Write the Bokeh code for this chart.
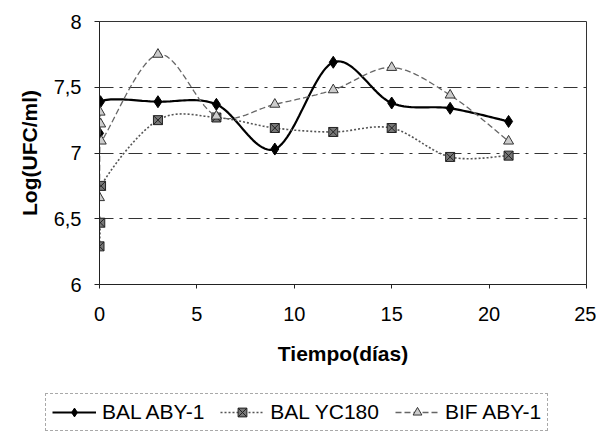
import numpy as np
from bokeh.plotting import figure
from bokeh.layouts import column, row
from bokeh.models import Legend, LegendItem, FixedTicker
from bokeh.embed import file_html
from bokeh.resources import INLINE

# ---- data ----
series_names = ["BAL ABY-1", "BAL YC180", "BIF ABY-1"]

t_aby = [0, 0.05, 3, 6, 9, 12, 15, 18, 21]
v_aby = [7.15, 7.39, 7.39, 7.37, 7.03, 7.69, 7.38, 7.34, 7.24]

t_yc = [0, 0.04, 0.08, 3, 6, 9, 12, 15, 18, 21]
v_yc = [6.29, 6.47, 6.75, 7.25, 7.27, 7.19, 7.16, 7.19, 6.97, 6.98]

t_bif = [0, 0.03, 0.06, 0.09, 3, 6, 9, 12, 15, 18, 21]
v_bif = [6.66, 7.31, 7.22, 7.09, 7.75, 7.28, 7.37, 7.48, 7.65, 7.44, 7.09]

x_ticks = [0, 5, 10, 15, 20, 25]
y_ticks = [6, 6.5, 7, 7.5, 8]
y_tick_labels = ["6", "6,5", "7", "7,5", "8"]
x_title = "Tiempo(días)"
y_title = "Log(UFC/ml)"


def smooth(xs, ys, n=24):
    """Excel-like smoothed line through the data points (Bezier/Catmull-Rom)."""
    P = np.column_stack([xs, ys]).astype(float)
    P = np.vstack([P[0], P, P[-1]])
    out = []
    for i in range(1, len(P) - 2):
        p0, p1, p2, p3 = P[i - 1], P[i], P[i + 1], P[i + 2]
        c1 = p1 + (p2 - p0) / 6.0
        c2 = p2 - (p3 - p1) / 6.0
        for s in np.linspace(0, 1, n, endpoint=False):
            b = ((1 - s) ** 3) * p1 + 3 * ((1 - s) ** 2) * s * c1 + 3 * (1 - s) * s * s * c2 + s ** 3 * p2
            out.append(b)
    out.append(P[-2])
    out = np.array(out)
    return out[:, 0], out[:, 1]


font = "Liberation Sans"

p = figure(width=596, height=372, x_range=(0, 25), y_range=(6, 8),
           output_backend="svg", toolbar_location=None,
           min_border_left=99, min_border_right=10, min_border_top=21, min_border_bottom=88)

p.background_fill_color = "white"
p.border_fill_color = "white"
p.outline_line_color = "#333333"
p.outline_line_width = 1

p.xgrid.visible = False
p.ygrid.ticker = FixedTicker(ticks=[6.5, 7, 7.5])
p.ygrid.grid_line_color = "#333333"
p.ygrid.grid_line_dash = "14 6 3 6"
p.ygrid.grid_line_width = 1

for ax in (p.xaxis, p.yaxis):
    ax.axis_line_color = "#222222"
    ax.major_tick_line_color = "#222222"
    ax.minor_tick_line_color = None
    ax.major_tick_in = 0
    ax.major_label_text_font = font
    ax.major_label_text_font_size = "20px"
    ax.major_label_text_color = "black"
    ax.axis_label_text_font = font
    ax.axis_label_text_font_size = "21px"
    ax.axis_label_text_font_style = "bold"
    ax.axis_label_text_color = "black"

p.xaxis.ticker = FixedTicker(ticks=x_ticks)
p.yaxis.ticker = FixedTicker(ticks=y_ticks)
p.yaxis.major_label_overrides = {t: l for t, l in zip(y_ticks, y_tick_labels)}
p.xaxis.major_tick_out = 4
p.yaxis.major_tick_out = 5
p.xaxis.major_label_standoff = 18
p.yaxis.major_label_standoff = 13
p.xaxis.axis_label = x_title
p.yaxis.axis_label = y_title
p.xaxis.axis_label_standoff = 18
p.yaxis.axis_label_standoff = 10

styles = [
    dict(line=dict(line_color="black", line_width=2.2),
         mark=dict(marker="diamond", size=12, fill_color="black", line_color="black")),
    dict(line=dict(line_color="#555555", line_width=1.6, line_dash="2 2"),
         mark=dict(marker="square_x", size=9, fill_color="#777777", line_color="#222222")),
    dict(line=dict(line_color="#666666", line_width=1.3, line_dash="6 3"),
         mark=dict(marker="triangle", size=10, fill_color="#cccccc", line_color="#333333")),
]
data = [(t_aby, v_aby), (t_yc, v_yc), (t_bif, v_bif)]

for (tx, vy), st in zip(data, styles):
    sx, sy = smooth(tx, vy)
    p.line(sx, sy, **st["line"])
    p.scatter(tx, vy, **st["mark"])

# ---- legend strip below the chart (same series, out of this strip's view) ----
q = figure(width=596, height=60, x_range=(100, 101), y_range=(100, 101),
           x_axis_type=None, y_axis_type=None,
           output_backend="svg", toolbar_location=None,
           min_border_left=0, min_border_right=0, min_border_top=0, min_border_bottom=0)
q.grid.visible = False
q.outline_line_color = None
q.background_fill_color = "white"
q.border_fill_color = "white"

items = []
for name, (tx, vy), st in zip(series_names, data, styles):
    lr = q.line(tx, vy, **st["line"])
    mr = q.scatter(tx, vy, **st["mark"])
    items.append(LegendItem(label=name, renderers=[lr, mr]))

legend = Legend(items=items, orientation="horizontal", location=(45, 1))
legend.label_text_font = font
legend.label_text_font_size = "21px"
legend.label_text_color = "black"
legend.glyph_width = 44
legend.glyph_height = 22
legend.label_standoff = 6
legend.spacing = 16
legend.padding = 6
legend.margin = 0
legend.border_line_color = "#555555"
legend.border_line_dash = "8 3"
legend.border_line_width = 1
legend.background_fill_alpha = 1.0
q.add_layout(legend, "center")

layout = column(row(p), row(q), spacing=0)
open("out.html", "w").write(file_html(layout, INLINE))
